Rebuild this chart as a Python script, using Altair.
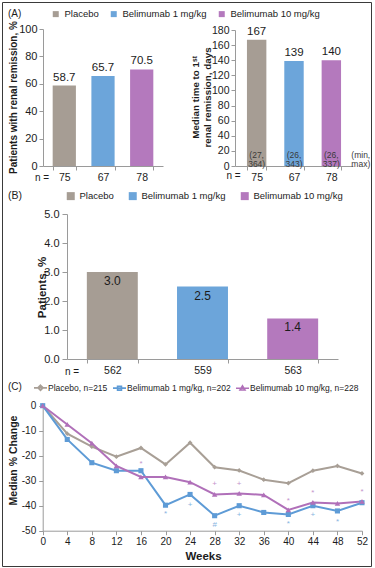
import altair as alt
import pandas as pd

# ---------------- data ----------------
groups = ["Placebo", "Belimumab 1 mg/kg", "Belimumab 10 mg/kg"]
bar_colors = ["#A69D94", "#6CA5DA", "#B479BD"]

remission_pct = [58.7, 65.7, 70.5]
remission_n = ["75", "67", "78"]

median_days = [167, 139, 140]
min_days = [27, 26, 26]
max_days = [364, 343, 337]
minmax_label = "(min,\nmax)"

patients_pct = [3.0, 2.5, 1.4]
patients_n = ["562", "559", "563"]

weeks = [0, 4, 8, 12, 16, 20, 24, 28, 32, 36, 40, 44, 48, 52]
series_c = ["Placebo, n=215", "Belimumab 1 mg/kg, n=202", "Belimumab 10 mg/kg, n=228"]
placebo_change = [0, -11.2, -16.4, -20.4, -16.9, -23.5, -14.8, -24.6, -25.9, -29.6, -31.0, -26.0, -24.1, -27.1]
bel1_change = [0, -13.5, -22.8, -26.0, -26.0, -39.8, -35.5, -44.0, -40.0, -42.7, -43.5, -40.0, -42.1, -38.8]
bel10_change = [0, -7.5, -15.0, -24.1, -28.5, -28.5, -30.6, -35.5, -35.1, -35.7, -41.7, -38.7, -39.1, -38.3]
line_colors = ["#A89F96", "#5E9BD6", "#B070B9"]
marker_shapes = ["diamond", "square", "triangle-up"]
marker_sizes = [22, 30, 24]
legend_paths = [
    "M-1,0L1,0M0,-0.4L0.4,0L0,0.4L-0.4,0Z",
    "M-1,0L1,0M-0.3,-0.3L0.3,-0.3L0.3,0.3L-0.3,0.3Z",
    "M-1,0L1,0M0,-0.38L0.38,0.26L-0.38,0.26Z",
]

ann_weeks = [16, 20, 24, 28, 28, 32, 32, 40, 40, 44, 44, 48, 52]
ann_values = [-23.3, -43.2, -39.7, -31.5, -47.7, -31.5, -43.7, -38.1, -47.5, -34.8, -43.7, -46.6, -34.6]
ann_symbols = ["*", "*", "+", "+", "#", "+", "+", "*", "*", "*", "+", "*", "*"]
ann_series = [series_c[2], series_c[1], series_c[1], series_c[2], series_c[1], series_c[2],
              series_c[1], series_c[2], series_c[1], series_c[2], series_c[1], series_c[1], series_c[2]]

# ---------------- layout constants ----------------
FONT = "Liberation Sans"
TXT = "#1c1c1c"
AXC = "#9a9a9a"
W, H = 369, 564

dfA = pd.DataFrame({"group": groups, "pct": remission_pct,
                    "label": [f"{v:.1f}" for v in remission_pct]})
dfA2 = pd.DataFrame({"group": groups, "days": median_days,
                     "label": [str(v) for v in median_days],
                     "range": [f"({a},\n{b})" for a, b in zip(min_days, max_days)]})
dfA2m = pd.DataFrame({"label": [minmax_label]})
dfB = pd.DataFrame({"group": groups, "pct": patients_pct,
                    "label": [f"{v:.1f}" for v in patients_pct]})
rows = []
for s, vals in zip(series_c, [placebo_change, bel1_change, bel10_change]):
    for w, v in zip(weeks, vals):
        rows.append({"series": s, "week": w, "change": v})
dfC = pd.DataFrame(rows)
dfAnn = pd.DataFrame({"week": ann_weeks, "change": ann_values, "sym": ann_symbols, "series": ann_series})
dfLeg = pd.DataFrame({"series": series_c})


def n_expr(ns):
    arr = "[" + ",".join(f"'{n}'" for n in ns) + "]"
    dom = "[" + ",".join(f"'{g}'" for g in groups) + "]"
    return f"{arr}[indexof({dom}, datum.value)]"


def band_x(rng, pi, po, axis_y, title_x, title_y, ns):
    return alt.X(
        "group:N", sort=groups,
        scale=alt.Scale(domain=groups, range=rng, paddingInner=pi, paddingOuter=po),
        axis=alt.Axis(orient="bottom", offset=axis_y - H, title="n =", titleX=title_x, titleY=title_y,
                      titleAngle=0, titleAlign="center", titleBaseline="middle",
                      titleFontWeight="normal", titleFontSize=10,
                      labelExpr=n_expr(ns), labelAngle=0, labelFontSize=10.5, labelPadding=2,
                      tickBand="extent", tickSize=4),
    )


def lin_y(field, dom, rng, axis_x, vals, title, title_x, title_y, tfs=10, lfs=11, lpad=2, tsize=4):
    return alt.Y(
        field, scale=alt.Scale(domain=dom, range=rng, nice=False),
        axis=alt.Axis(orient="left", offset=-axis_x, values=vals, title=title,
                      titleX=title_x, titleY=title_y, titleAngle=270, titleAlign="center",
                      titleBaseline="middle", titleFontSize=tfs, titleFontWeight="bold",
                      titleLineHeight=12, labelFontSize=lfs, labelPadding=lpad, tickSize=tsize,
                      labelExpr="replace(datum.label, '\u2212', '-')"),
    )


def bar_legend(title, lx, ly, tpad, lfs, tfs, ssize, cpad, loff):
    return alt.Legend(title=title, orient="none", legendX=lx, legendY=ly, direction="horizontal",
                      columns=3, titleOrient="left", titlePadding=tpad, titleFontSize=tfs,
                      titleFontWeight="normal", labelFontSize=lfs, symbolType="square",
                      symbolSize=ssize, symbolStrokeWidth=0, labelOffset=loff, columnPadding=cpad)


# ---------------- panel A (left) ----------------
xA1 = band_x([41, 161], 0.4, 0.25, 164, 39.5, 11, remission_n)
yA1 = lin_y("pct:Q", [0, 100], [164, 27], 41, [0, 20, 40, 60, 80, 100],
            "Patients with renal remission, %", -30, 95)
colA = alt.Color("group:N", scale=alt.Scale(domain=groups, range=bar_colors),
                 legend=bar_legend("(A)", 6, 7, 29, 9.5, 10, 36, 10, 4))
barsA1 = alt.Chart(dfA).mark_bar().encode(x=xA1, y=yA1, color=colA)
textA1 = alt.Chart(dfA).mark_text(baseline="bottom", dy=-3, fontSize=11.5, color=TXT).encode(
    x=alt.X("group:N", sort=groups), y="pct:Q", text="label:N")
panelA1 = alt.layer(barsA1, textA1)

# ---------------- panel A (right) ----------------
xA2 = band_x([233, 351], 0.48, 0.32, 164, 231, 9, remission_n)
yA2 = lin_y("days:Q", [0, 180], [164, 28], 233, list(range(0, 181, 20)),
            ["Median time to 1\u02e2\u1d57", "renal remission, days"], -40, 95, tfs=9.8, lfs=10.5)
colA2 = alt.Color("group:N", scale=alt.Scale(domain=groups, range=bar_colors), legend=None)
barsA2 = alt.Chart(dfA2).mark_bar().encode(x=xA2, y=yA2, color=colA2)
textA2 = alt.Chart(dfA2).mark_text(baseline="bottom", dy=-3, fontSize=11.5, color=TXT).encode(
    x=alt.X("group:N", sort=groups), y="days:Q", text="label:N")
rangeA2 = alt.Chart(dfA2).mark_text(baseline="bottom", dy=-6, fontSize=8.5, color="#3a3a3a",
                                    lineBreak="\n", lineHeight=9).encode(
    x=alt.X("group:N", sort=groups), y=alt.datum(0), text="range:N")
mmA2 = alt.Chart(dfA2m).mark_text(baseline="bottom", align="left", dx=20, dy=-6, fontSize=8.5,
                                  color="#3a3a3a", lineBreak="\n", lineHeight=9).encode(
    x=alt.datum(groups[2]), y=alt.datum(0), text="label:N")
panelA2 = alt.layer(barsA2, textA2, rangeA2, mmA2)

# ---------------- panel B ----------------
xB = band_x([65, 336], 0.435, 0.22, 357, 69.5, 12, patients_n)
yB = lin_y("pct:Q", [0, 5], [357, 212], 65, [0, 1, 2, 3, 4, 5], "Patients, %", -25, 285,
           tfs=11.5, lfs=11, lpad=3, tsize=5)
colB = alt.Color("group:N", scale=alt.Scale(domain=groups, range=bar_colors),
                 legend=bar_legend("(B)", 6, 189, 44, 9.5, 10.5, 64, 14, 4))
barsB = alt.Chart(dfB).mark_bar().encode(x=xB, y=yB, color=colB)
textB = alt.Chart(dfB).mark_text(baseline="top", dy=4, fontSize=12, color=TXT).encode(
    x=alt.X("group:N", sort=groups), y="pct:Q", text="label:N")
panelB = alt.layer(barsB, textB)

# ---------------- panel C ----------------
xC_axis = alt.Axis(orient="bottom", offset=528.7 - H, values=weeks, tickCount=14, title="Weeks",
                   titleX=201, titleY=26, titleAngle=0, titleAlign="center",
                   titleBaseline="middle", titleFontSize=11.5, titleFontWeight="bold",
                   labelFontSize=10, labelPadding=2, tickSize=4, labelFlush=False,
                   labelOverlap=False, labelSeparation=0, format="d")
xC_scale = alt.Scale(domain=[0, 52], range=[40.7, 360], nice=False)
xC = alt.X("week:Q", scale=xC_scale, axis=xC_axis)
yC = lin_y("change:Q", [-50, 0], [528.7, 403.7], 40.7, [-50, -40, -30, -20, -10, 0],
           "Median % Change", -29.7, 458, tfs=10.5, lfs=10, lpad=3, tsize=4)
colC = alt.Color("series:N", scale=alt.Scale(domain=series_c, range=line_colors), legend=None)
linesC = alt.Chart(dfC).mark_line(strokeWidth=2).encode(
    x=xC, y=yC, color=colC, order="week:Q")
pointsC = alt.Chart(dfC).mark_point(filled=True, opacity=1).encode(
    x=xC, y=yC, color=colC,
    shape=alt.Shape("series:N", scale=alt.Scale(domain=series_c, range=marker_shapes), legend=None),
    size=alt.Size("series:N", scale=alt.Scale(domain=series_c, range=marker_sizes), legend=None))
annC = alt.Chart(dfAnn).mark_text(fontSize=8, opacity=0.75, baseline="middle").encode(
    x=xC, y=yC, text="sym:N", color=colC)
panelC = alt.layer(linesC, pointsC, annC)

legC_def = alt.Legend(title="(C)", orient="none", legendX=6, legendY=378, direction="horizontal",
                      columns=3, titleOrient="left", titlePadding=11, titleFontSize=10,
                      titleFontWeight="normal", labelFontSize=8.5, symbolSize=169,
                      symbolStrokeWidth=1.6, symbolOpacity=1, labelOffset=0, columnPadding=1)
legendC = alt.Chart(dfLeg).mark_point(opacity=0, filled=False, strokeWidth=1.6).encode(
    color=alt.Color("series:N", scale=alt.Scale(domain=series_c, range=line_colors), legend=legC_def),
    shape=alt.Shape("series:N", scale=alt.Scale(domain=series_c, range=legend_paths), legend=legC_def))

chart = alt.layer(panelA1, panelA2, panelB, panelC, legendC).resolve_scale(
    x="independent", y="independent", color="independent", shape="independent", size="independent"
).resolve_axis(
    x="independent", y="independent"
).resolve_legend(
    color="independent", shape="independent", size="independent"
).properties(
    width=W, height=H,
    autosize=alt.AutoSizeParams(type="none"),
    padding={"left": 2, "top": 2, "right": 4, "bottom": 2},
    background="white",
).configure_view(
    stroke="#3a3a3a", strokeWidth=1
).configure_axis(
    grid=False, domainColor=AXC, tickColor=AXC, labelColor=TXT, titleColor=TXT,
    labelFont=FONT, titleFont=FONT, labelOverlap=False
).configure_legend(
    labelFont=FONT, titleFont=FONT, labelColor=TXT, titleColor=TXT
).configure_text(font=FONT)

chart.save("out.html", embed_options={"renderer": "svg", "actions": False})
